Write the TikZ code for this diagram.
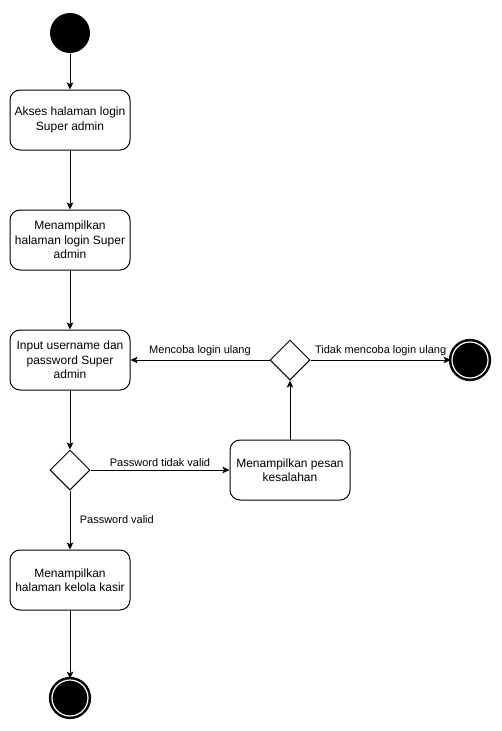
\documentclass[tikz,border=0pt]{standalone}
\usepackage{fontspec}
\setmainfont{Liberation Sans}
\usetikzlibrary{arrows.meta,shapes.geometric}

\begin{document}
\begin{tikzpicture}[x=1pt,y=-1pt,line width=1pt,
        act/.style={draw,rounded corners=10pt,minimum width=120pt,minimum height=60pt,
            align=center,inner sep=2pt,font=\fontsize{12}{14.5}\selectfont},
        dec/.style={draw,diamond,minimum width=40pt,minimum height=40pt,inner sep=0pt},
        initial/.style={circle,fill=black,minimum size=40pt,inner sep=0pt},
        final/.style={circle,draw=black,fill=black,double=white,double distance=1.2pt,
            line width=2.5pt,minimum size=36pt,inner sep=0pt},
        flow/.style={-{Stealth[length=7pt,width=6.5pt,inset=1.5pt]}},
        lbl/.style={font=\fontsize{11}{13}\selectfont}]
    \useasboundingbox (0,0) rectangle (501,731);

    \node[initial] (start) at (70,33) {};
    \node[act] (akses) at (70,120) {Akses halaman login\\Super admin};
    \node[act] (tampil) at (70,240) {Menampilkan\\halaman login Super\\admin};
    \node[act] (input) at (70,360) {Input username dan\\password Super\\admin};
    \node[dec] (cek) at (70,470) {};
    \node[act] (pesan) at (290,470) {Menampilkan pesan\\kesalahan};
    \node[dec] (ulang) at (290,360) {};
    \node[final] (end1) at (470,360) {};
    \node[act] (kelola) at (70,580) {Menampilkan\\halaman kelola kasir};
    \node[final] (end2) at (70,698) {};

    % alur utama
    \draw[flow] (start) -- (akses);
    \draw[flow] (akses) -- (tampil);
    \draw[flow] (tampil) -- (input);
    \draw[flow] (input) -- (cek);
    \draw[flow] (cek) -- node[lbl,above] {Password tidak valid} (pesan);
    \draw[flow] (cek) -- node[lbl,anchor=west,xshift=6pt] {Password valid} (kelola);
    \draw[flow] (kelola) -- (end2);

    % percobaan ulang
    \draw[flow] (pesan) -- (ulang);
    \draw[flow] (ulang) -- node[lbl,above] {Mencoba login ulang} (input);
    \draw[flow] (ulang) -- node[lbl,above] {Tidak mencoba login ulang} (end1);
\end{tikzpicture}
\end{document}
